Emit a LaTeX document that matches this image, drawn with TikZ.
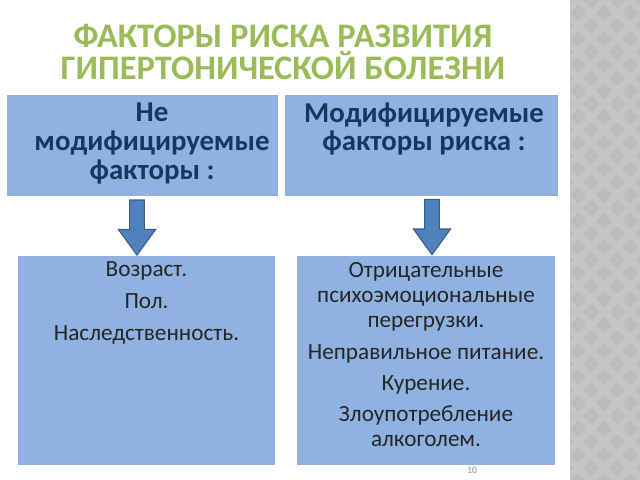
\documentclass[tikz,border=0pt]{standalone}
\usepackage{fontspec}
\setmainfont{Carlito}
\usetikzlibrary{shapes.arrows, positioning}
\definecolor{boxblue}{RGB}{143,178,225}
\definecolor{arrowblue}{RGB}{79,129,189}
\definecolor{arrowline}{RGB}{56,93,138}
\definecolor{titlegreen}{RGB}{155,187,89}
\definecolor{headnavy}{RGB}{23,55,94}
\definecolor{stripegray}{RGB}{197,197,197}
\definecolor{diamondgray}{RGB}{188,188,188}
\tikzstyle{box} = [rectangle, fill=boxblue, draw=none, inner sep=0pt]
\tikzstyle{head} = [text=headnavy, font=\fontsize{20.5}{20.3}\selectfont\bfseries, align=center]
\tikzstyle{body} = [text=black!85, font=\fontsize{16.5}{17.8}\selectfont, align=center, inner sep=0pt]
\tikzstyle{down} = [single arrow, rotate=-90, fill=arrowblue, draw=arrowline, line width=0.8pt, minimum height=1.375cm, inner xsep=0pt, inner ysep=0.17cm, single arrow head extend=0.28cm, single arrow tip angle=72]

\begin{document}
\begin{tikzpicture}[x=0.025cm, y=-0.025cm]
		\useasboundingbox (0,0) rectangle (640,480);
		% grey stripe on the right
		\fill[stripegray] (570,0) rectangle (640,480);
		\begin{scope}
			\clip (570,0) rectangle (640,480);
			\foreach \row in {0,...,38} {
				\foreach \col in {0,...,6} {
					\pgfmathsetmacro{\cx}{565+\col*26+mod(\row,2)*13}
					\pgfmathsetmacro{\cy}{\row*13}
					\fill[diamondgray] (\cx,\cy-8) -- (\cx+8,\cy) -- (\cx,\cy+8) -- (\cx-8,\cy) -- cycle;
				}
			}
		\end{scope}
		% title
		\node (title) [text=titlegreen, font=\fontsize{24.5}{22.5}\selectfont\bfseries, align=center] at (283,52) {ФАКТОРЫ РИСКА РАЗВИТИЯ\\ГИПЕРТОНИЧЕСКОЙ БОЛЕЗНИ};
		% upper boxes
		\node (fixed) [box, minimum width=6.775cm, minimum height=2.525cm] at (142.5,145.5) {};
		\node (changeable) [box, minimum width=6.825cm, minimum height=2.525cm] at (421.5,145.5) {};
		\node (fixedtext) [head] at (152,143.5) {Не\\модифицируемые\\факторы :};
		\node (changeabletext) [head] at (424,129) {Модифицируемые\\факторы риска :};
		% lower boxes
		\node (fixedlist) [box, minimum width=6.425cm, minimum height=5.225cm] at (146.5,360.5) {};
		\node (changeablelist) [box, minimum width=6.45cm, minimum height=5.225cm] at (426,360.5) {};
		\node (fixedlisttext) [body, anchor=north] at (146.5,261) {Возраст.\\[5pt]Пол.\\[5pt]Наследственность.};
		\node (changeablelisttext) [body, anchor=north] at (426,262.5) {Отрицательные\\психоэмоциональные\\перегрузки.\\[4.5pt]Неправильное питание.\\[4.5pt]Курение.\\[4pt]Злоупотребление\\алкоголем.};
		% arrows
		\node (leftarrow) [down] at (137,222.5) {};
		\node (rightarrow) [down] at (432,222) {};
		% page number
		\node (pagenum) [text=black!45, font=\fontsize{7}{8}\selectfont] at (472,470) {10};
\end{tikzpicture}
\end{document}
